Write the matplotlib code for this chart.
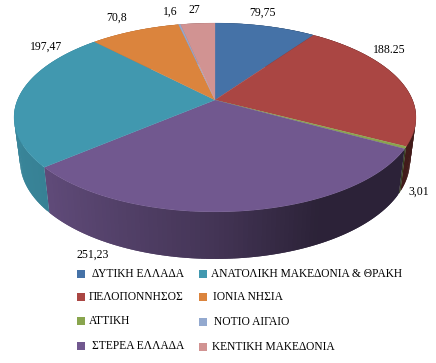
import numpy as np
import matplotlib
matplotlib.use('Agg')
import matplotlib.pyplot as plt
from matplotlib.colors import to_rgb

# order is clockwise from 12 o'clock
names = ['ΔΥΤΙΚΗ ΕΛΛΑΔΑ', 'ΠΕΛΟΠΟΝΝΗΣΟΣ', 'ΑΤΤΙΚΗ', 'ΣΤΕΡΕΑ ΕΛΛΑΔΑ',
         'ΑΝΑΤΟΛΙΚΗ ΜΑΚΕΔΟΝΙΑ & ΘΡΑΚΗ', 'ΙΟΝΙΑ ΝΗΣΙΑ', 'ΝΟΤΙΟ ΑΙΓΑΙΟ', 'ΚΕΝΤΙΚΗ ΜΑΚΕΔΟΝΙΑ']
values = [79.75, 188.25, 3.01, 251.23, 197.47, 70.8, 1.6, 27]
labels = ['79,75', '188.25', '3,01', '251,23', '197,47', '70,8', '1,6', '27']
colors = ['#4572A7', '#AA4643', '#89A54E', '#71588F', '#4198AF', '#DB843D', '#93A9CF', '#D19392']

label_pos = [(262, 13), (389, 50), (419, 192), (93, 255), (46, 47), (117, 18), (170, 12), (194, 10)]
legend_pos = [(77, 92, 274), (77, 89, 297), (77, 89, 321), (77, 92, 346),
              (199, 211, 274), (199, 213, 297), (199, 214, 322), (199, 212, 347)]

CX, CY = 215, 100
K = 0.185
A, B = 197.5, 91.2


def top_xy(theta):
    u, v = np.sin(theta), np.cos(theta)
    w = 1 + K * v
    return CX + A * u / w, CY - B * v / w


def bottom_xy(theta):
    x, y = top_xy(theta)
    return CX + 0.97 * (x - CX), CY + 43 + 1.036 * (y - CY)


def shade(c, theta):
    f = np.interp(np.sin(theta), [-1, -0.76, 0, 0.45, 1], [0.88, 0.85, 0.6, 0.39, 0.39])
    return tuple(np.array(to_rgb(c)) * f)


fig = plt.figure(figsize=(4.36, 3.63), dpi=100)
ax = fig.add_axes([0, 0, 1, 1])
ax.set_xlim(0, 436)
ax.set_ylim(363, 0)
ax.axis('off')

plt.rcParams['font.family'] = ['Liberation Serif', 'DejaVu Serif']

edges = np.cumsum([0] + values) / sum(values) * 2 * np.pi

# side wall, each strip runs over the next one so no seams show
for i, c in enumerate(colors):
    n = max(int((edges[i + 1] - edges[i]) / 0.02), 2)
    t = np.linspace(edges[i], edges[i + 1], n + 1)
    for j in range(n):
        s = t[j:min(j + 3, n + 1)]
        x1, y1 = top_xy(s)
        x2, y2 = bottom_xy(s)
        ax.fill(np.r_[x1, x2[::-1]], np.r_[y1, y2[::-1]], color=shade(c, t[j]), lw=0, zorder=1)

# top face
for i, c in enumerate(colors):
    t = np.linspace(edges[i], edges[i + 1], 120)
    x, y = top_xy(t)
    ax.fill(np.r_[CX, x], np.r_[CY, y], color=c, lw=0.2, zorder=2)

for txt, (x, y) in zip(labels, label_pos):
    ax.text(x, y, txt, fontsize=8.5, color='black', ha='center', va='center', zorder=3)

for name, c, (sx, tx, y) in zip(names, colors, legend_pos):
    ax.fill([sx, sx + 8, sx + 8, sx], [y - 4, y - 4, y + 4, y + 4], color=c, lw=0)
    ax.text(tx, y, name, fontsize=8.3, color='black', ha='left', va='center')

fig.savefig('out.png', dpi=100)
